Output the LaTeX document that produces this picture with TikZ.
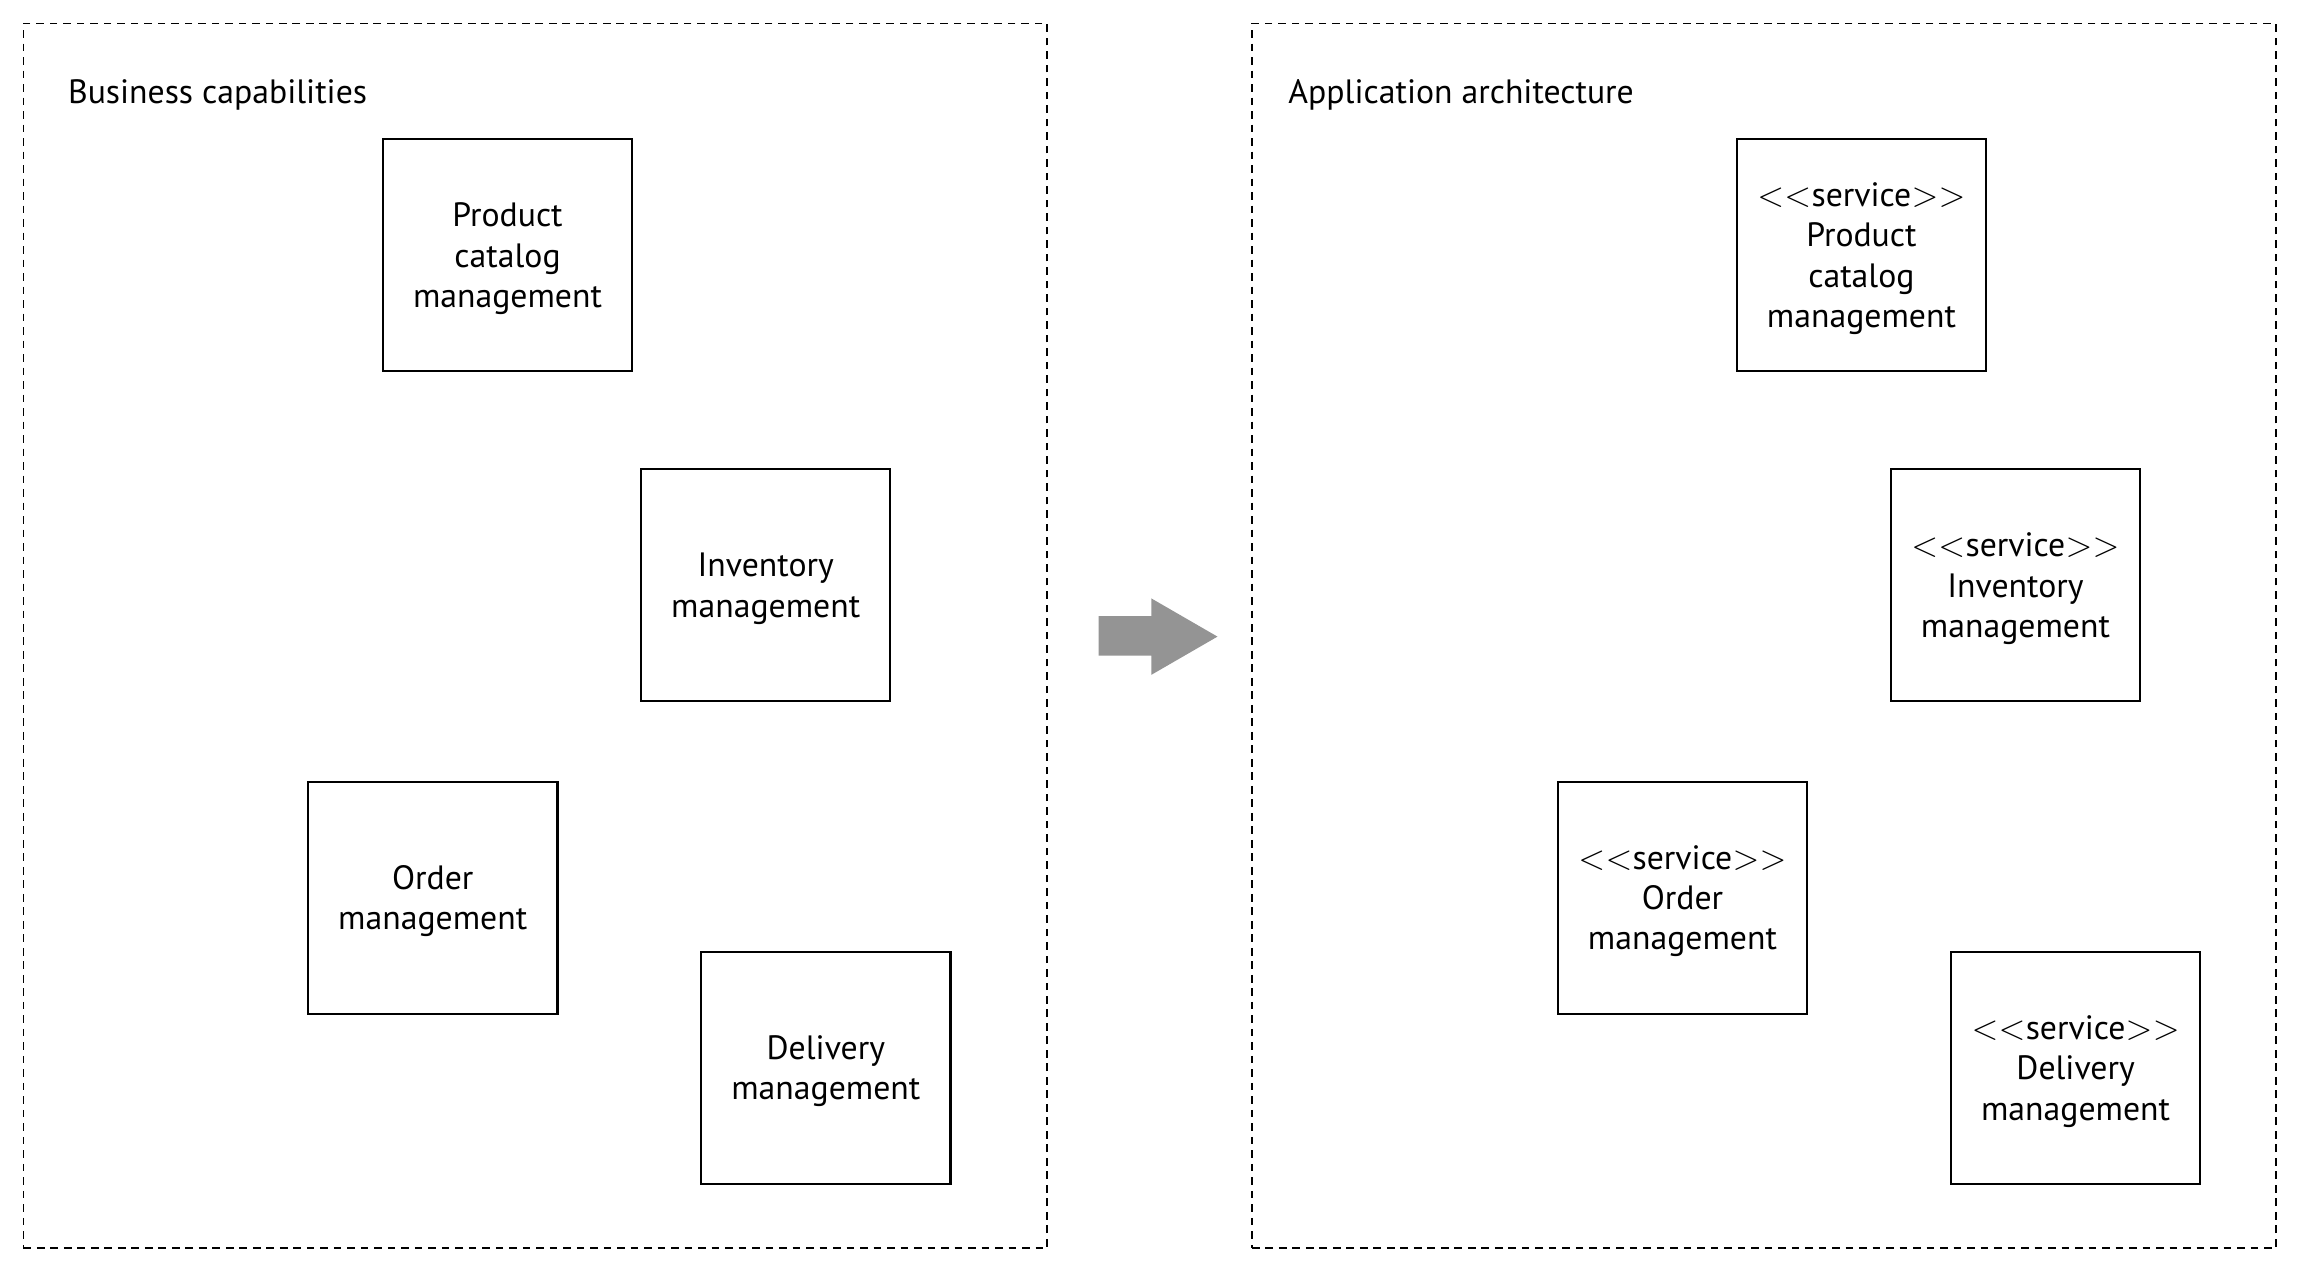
\documentclass[tikz,border=0pt]{standalone}
\usepackage{fontspec}
\setmainfont{PT Sans}
\newcommand{\svc}{$<$\kern0.1pt$<$\kern0.1pt service\kern0.1pt$>$\kern0.1pt$>$}
\begin{document}
\begin{tikzpicture}[x=0.5pt,y=-0.5pt,
  frame/.style={draw, dash pattern=on 2.6pt off 2pt, line width=0.6pt, minimum width=349pt, minimum height=417.5pt, inner sep=0pt},
  capbox/.style={draw, line width=0.75pt, minimum width=85pt, minimum height=79pt, inner sep=0pt},
  captext/.style={inner sep=0pt, align=center, font=\fontsize{11.5}{13.75}\selectfont},
  title/.style={anchor=west, inner sep=0pt, font=\fontsize{11.5}{13.75}\selectfont},
  bigarrow/.style={fill=black!42, draw=none}]
\useasboundingbox (0,0) rectangle (1568,868);
\node[frame] (leftframe) at (365,433.5) {};
\node[frame] (rightframe) at (1202.5,433.5) {};
\node[title] (bt) at (46,64.5) {Business capabilities};
\node[title] (at) at (878,64.5) {Application architecture};
% left
\node[capbox] (lprod) at (346,174) {};
\node[captext] (lprodt) at ([yshift=-1.2pt]lprod.center) {Product\\catalog\\management};
\node[capbox] (linv) at (522,399) {};
\node[captext] (linvt) at ([yshift=-1.2pt]linv.center) {Inventory\\management};
\node[capbox] (lord) at (295,612) {};
\node[captext] (lordt) at ([yshift=-1.2pt]lord.center) {Order\\management};
\node[capbox] (ldel) at (563,728) {};
\node[captext] (ldelt) at ([yshift=-1.2pt]ldel.center) {Delivery\\management};
% right
\node[capbox] (rprod) at (1269,174) {};
\node[captext] (rprodt) at ([yshift=-1.2pt]rprod.center) {\svc\\Product\\catalog\\management};
\node[capbox] (rinv) at (1374,399) {};
\node[captext] (rinvt) at ([yshift=-1.2pt]rinv.center) {\svc\\Inventory\\management};
\node[capbox] (rord) at (1147,612) {};
\node[captext] (rordt) at ([yshift=-1.2pt]rord.center) {\svc\\Order\\management};
\node[capbox] (rdel) at (1415,728) {};
\node[captext] (rdelt) at ([yshift=-1.2pt]rdel.center) {\svc\\Delivery\\management};
% arrow
\fill[bigarrow] (749,420) -- (785,420) -- (785,408) -- (830,434) -- (785,460) -- (785,447) -- (749,447) -- cycle;
\end{tikzpicture}
\end{document}
